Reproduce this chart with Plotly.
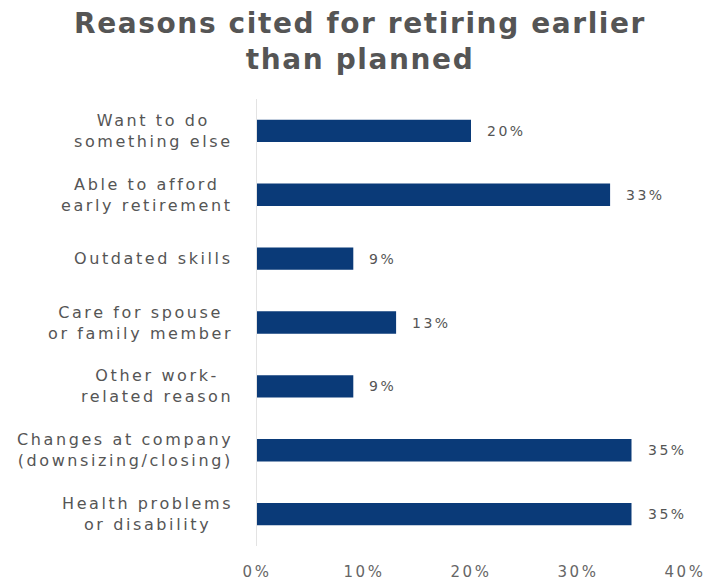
import plotly.graph_objects as go

categories = [
    "Want to do<br>something else",
    "Able to afford<br>early retirement",
    "Outdated skills",
    "Care for spouse<br>or family member",
    "Other work-<br>related reason",
    "Changes at company<br>(downsizing/closing)",
    "Health problems<br>or disability",
]
values = [0.20, 0.33, 0.09, 0.13, 0.09, 0.35, 0.35]
x_ticks = [0, 0.1, 0.2, 0.3, 0.4]
x_tick_labels = ["0%", "10%", "20%", "30%", "40%"]
value_labels = [f"{round(v*100)}%" for v in values]
title_lines = ["Reasons cited for retiring earlier", "than planned"]

BAR = "#0A3A78"
TXT = "#555555"
FONT = "DejaVu Sans"


def spaced(text, px):
    return "<br>".join(f'<span style="letter-spacing:{px}px">{ln}</span>'
                       for ln in text.split("<br>"))


fig = go.Figure()
fig.add_trace(go.Bar(
    x=values, y=categories, orientation="h",
    marker=dict(color=BAR, line=dict(width=0)),
    hoverinfo="skip",
))

for c, v, t in zip(categories, values, value_labels):
    fig.add_annotation(x=v, y=c, xref="x", yref="y", text=spaced(t, 2.5), showarrow=False,
                       xanchor="left", xshift=14, font=dict(family=FONT, size=14, color=TXT))
    fig.add_annotation(x=0, y=c, xref="paper", yref="y", text=spaced(c, 2.6), showarrow=False,
                       xanchor="right", xshift=-22, align="center",
                       font=dict(family=FONT, size=16, color=TXT))

fig.add_annotation(x=(360 - 257) / 428, y=1.21, xref="paper", yref="paper",
                   xanchor="center", yanchor="top", showarrow=False, align="center",
                   text="<b>" + spaced("<br>".join(title_lines), 1.6) + "</b>",
                   font=dict(family=FONT, size=28, color="#555555"))

fig.update_layout(
    width=706, height=584,
    margin=dict(l=257, r=21, t=99, b=38, autoexpand=False),
    paper_bgcolor="white", plot_bgcolor="white",
    bargap=0.65,
    showlegend=False,
    xaxis=dict(range=[0, 0.4], tickvals=x_ticks,
               ticktext=[spaced(s, 2.5) for s in x_tick_labels],
               showgrid=False, zeroline=False, showline=False, automargin=False,
               tickfont=dict(family=FONT, size=15, color="#666666"),
               ticklabelstandoff=15, fixedrange=True),
    yaxis=dict(autorange="reversed", showticklabels=False, showgrid=False,
               zeroline=False, showline=True, linecolor="#E3E3E3", linewidth=1,
               automargin=False, fixedrange=True),
)

fig.write_html("out.html")
